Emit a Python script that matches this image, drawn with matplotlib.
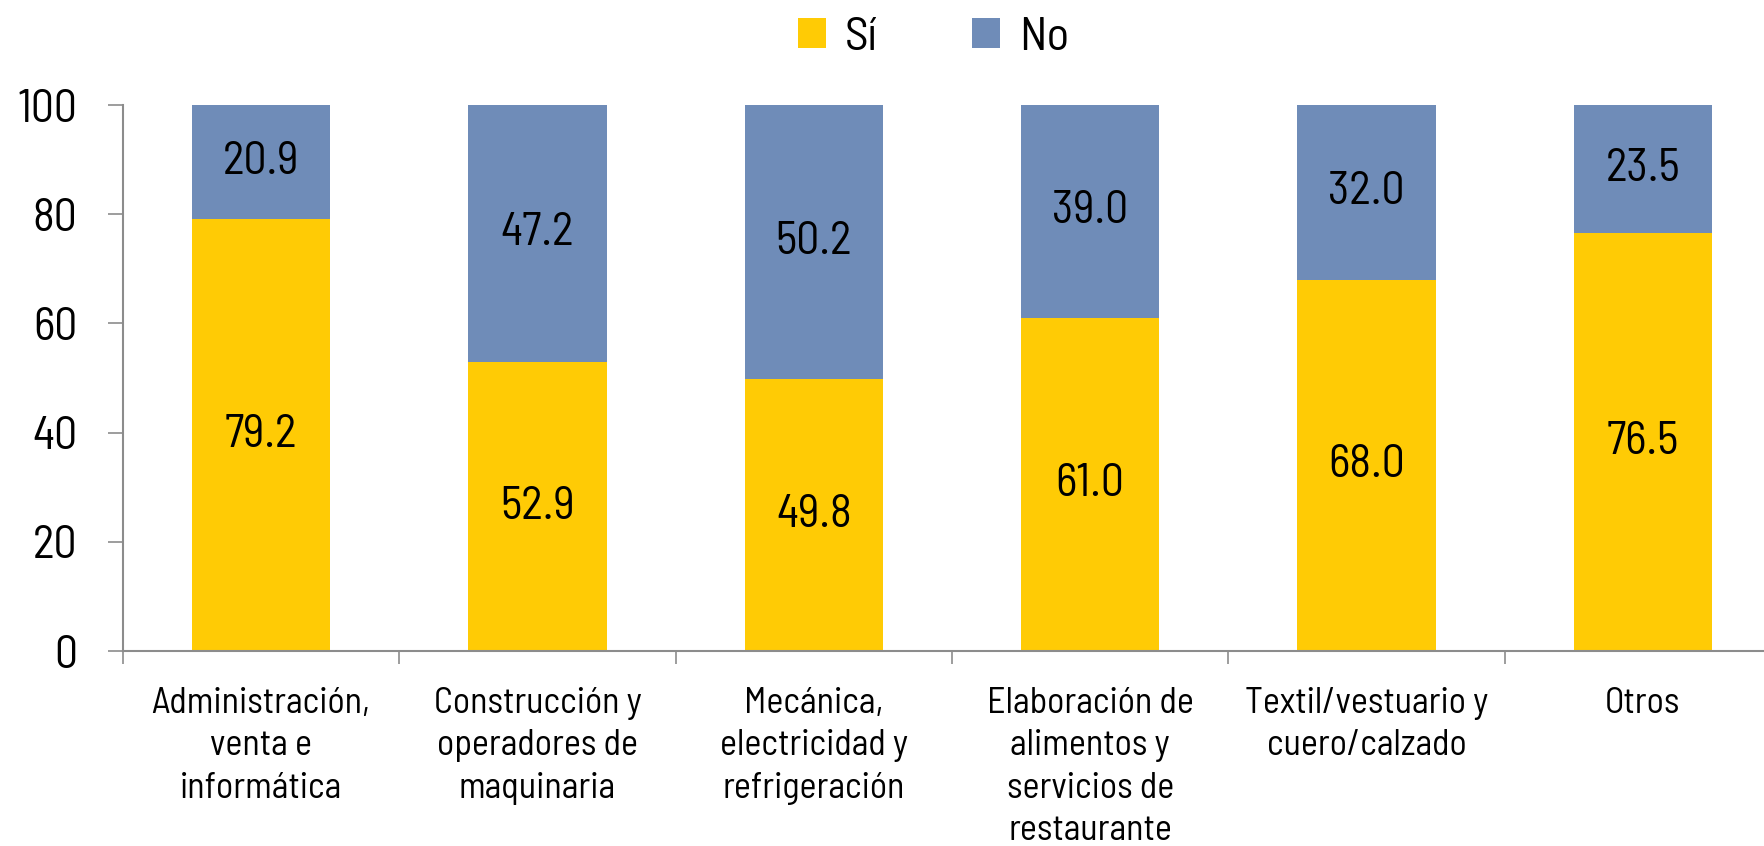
import matplotlib
matplotlib.use('Agg')
import matplotlib.pyplot as plt
from matplotlib import font_manager
import numpy as np

categories = ['Administración,\nventa e\ninformática',
              'Construcción y\noperadores de\nmaquinaria',
              'Mecánica,\nelectricidad y\nrefrigeración',
              'Elaboración de\nalimentos y\nservicios de\nrestaurante',
              'Textil/vestuario y\ncuero/calzado',
              'Otros']
si = [79.2, 52.9, 49.8, 61.0, 68.0, 76.5]
no = [20.9, 47.2, 50.2, 39.0, 32.0, 23.5]
yticks = [0, 20, 40, 60, 80, 100]

yellow = '#FFCB05'
blue = '#6F8CB8'
gray = '#8C8C8C'

# condensed DIN-like font if there is one
names = {f.name for f in font_manager.fontManager.ttflist}
for fam in ['Barlow Semi Condensed', 'Barlow Condensed', 'DejaVu Sans']:
    if fam in names:
        plt.rcParams['font.family'] = [fam, 'DejaVu Sans']
        break

fig = plt.figure(figsize=(17.65, 8.46), dpi=100)
ax = fig.add_axes([123 / 1765, 195 / 846, 1658 / 1765, 546 / 846])

x = np.arange(len(categories))
b1 = ax.bar(x, si, width=0.5, color=yellow, label='Sí')
b2 = ax.bar(x, no, width=0.5, bottom=si, color=blue, label='No')

for i in range(len(x)):
    ax.text(x[i], si[i] / 2, f'{si[i]:.1f}', ha='center', va='center', fontsize=33)
    ax.text(x[i], si[i] + no[i] / 2, f'{no[i]:.1f}', ha='center', va='center', fontsize=33)

ax.set_xlim(-0.5, len(categories) - 0.5)
ax.set_ylim(0, 100)
ax.set_yticks(yticks)
ax.tick_params(axis='y', labelsize=33, length=11, width=1.2, color=gray, pad=22)

# category labels centred, tick marks between categories
ax.set_xticks(x)
ax.set_xticklabels(categories, fontsize=26, linespacing=1.36)
ax.tick_params(axis='x', length=0, pad=26)
ax.set_xticks(np.arange(len(categories) + 1) - 0.5, minor=True)
ax.tick_params(axis='x', which='minor', length=9, width=1.2, color=gray)

for s in ['top', 'right']:
    ax.spines[s].set_visible(False)
for s in ['left', 'bottom']:
    ax.spines[s].set_color(gray)
    ax.spines[s].set_linewidth(1.5)

fig.legend(handles=[b1, b2], loc='upper center', bbox_to_anchor=(0.529, 1.03),
           ncol=2, frameon=False, fontsize=34, handlelength=0.6, handleheight=0.6,
           handletextpad=0.4, columnspacing=2.0)

fig.savefig('out.png', dpi=100)
